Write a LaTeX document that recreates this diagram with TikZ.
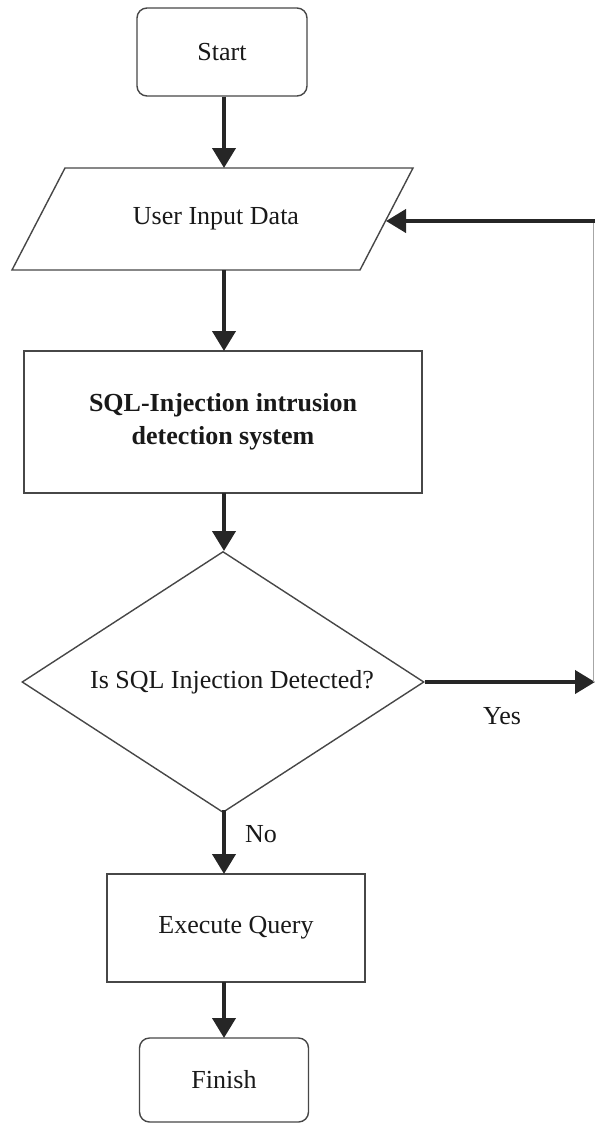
\documentclass[tikz,border=0pt]{standalone}
\usepackage{fontspec}
\setmainfont{Liberation Serif}
\usetikzlibrary{arrows.meta,shapes.geometric,calc}
\begin{document}
\begin{tikzpicture}[x=1pt,y=-1pt,
  box/.style={draw=black!72, line width=1.4pt, fill=white, inner sep=0pt,
    font=\fontsize{26}{33}\selectfont, text=black!90},
  term/.style={box, rounded corners=10pt},
  flow/.style={line width=4pt, draw=black!85, -{Triangle[length=20pt,width=23pt]}},
  feed/.style={line width=1pt, draw=black!35},
  lbl/.style={font=\fontsize{26}{30}\selectfont, text=black!90, inner sep=0pt}
]
\useasboundingbox (0,0) rectangle (595,1125);

% terminals and process boxes
\node[term, minimum width=170pt, minimum height=88pt] (start) at (222,52) {Start};

% input parallelogram
\coordinate (pBL) at (12,270);
\coordinate (pBR) at (360,270);
\coordinate (pTR) at (413,168);
\coordinate (pTL) at (65,168);
\draw[box] (pBL) -- (pBR) -- (pTR) -- (pTL) -- cycle;
\node[lbl] (input) at (216,219) {User Input Data};
\coordinate (inTop) at (224,168);
\coordinate (inBot) at (224,270);
\coordinate (inRight) at (386,221);

\node[box, minimum width=398pt, minimum height=142pt, align=center,
      font=\fontsize{26}{33}\selectfont\bfseries] (ids) at (223,422)
  {SQL-Injection intrusion\\detection system};

\node[box, shape=diamond, aspect=1.6, minimum width=402pt, minimum height=261pt] (dec) at (223,682)
  {\hspace*{18pt}Is SQL Injection Detected?};

\node[box, minimum width=258pt, minimum height=108pt] (exec) at (236,928) {Execute Query};

\node[term, minimum width=169pt, minimum height=84pt] (finish) at (224,1080) {Finish};

% main flow along the vertical axis
\coordinate (idsTop) at (224,351);
\coordinate (idsBot) at (224,493);
\coordinate (decTop) at (224,551);
\coordinate (decBot) at (224,810);
\coordinate (execTop) at (224,874);
\coordinate (execBot) at (224,982);
\coordinate (finTop) at (224,1038);
\draw[flow] (start.south -| inTop) -- (inTop);
\draw[flow] (inBot) -- (idsTop);
\draw[flow] (idsBot) -- (decTop);
\draw[flow] (decBot) -- (execTop);
\draw[flow] (execBot) -- (finTop);

% loop back when an injection is found
\coordinate (yesEnd) at (595,682);
\coordinate (loopCorner) at (593,682);
\coordinate (loopTop) at (593,221);
\coordinate (loopStart) at (595,221);
\draw[flow] (dec.east) -- (yesEnd);
\draw[feed] (loopCorner) -- (loopTop);
\draw[flow] (loopStart) -- (inRight);

% branch labels
\node[lbl] (yes) at (502,716) {Yes};
\node[lbl] (no) at (261,834) {No};
\end{tikzpicture}
\end{document}
